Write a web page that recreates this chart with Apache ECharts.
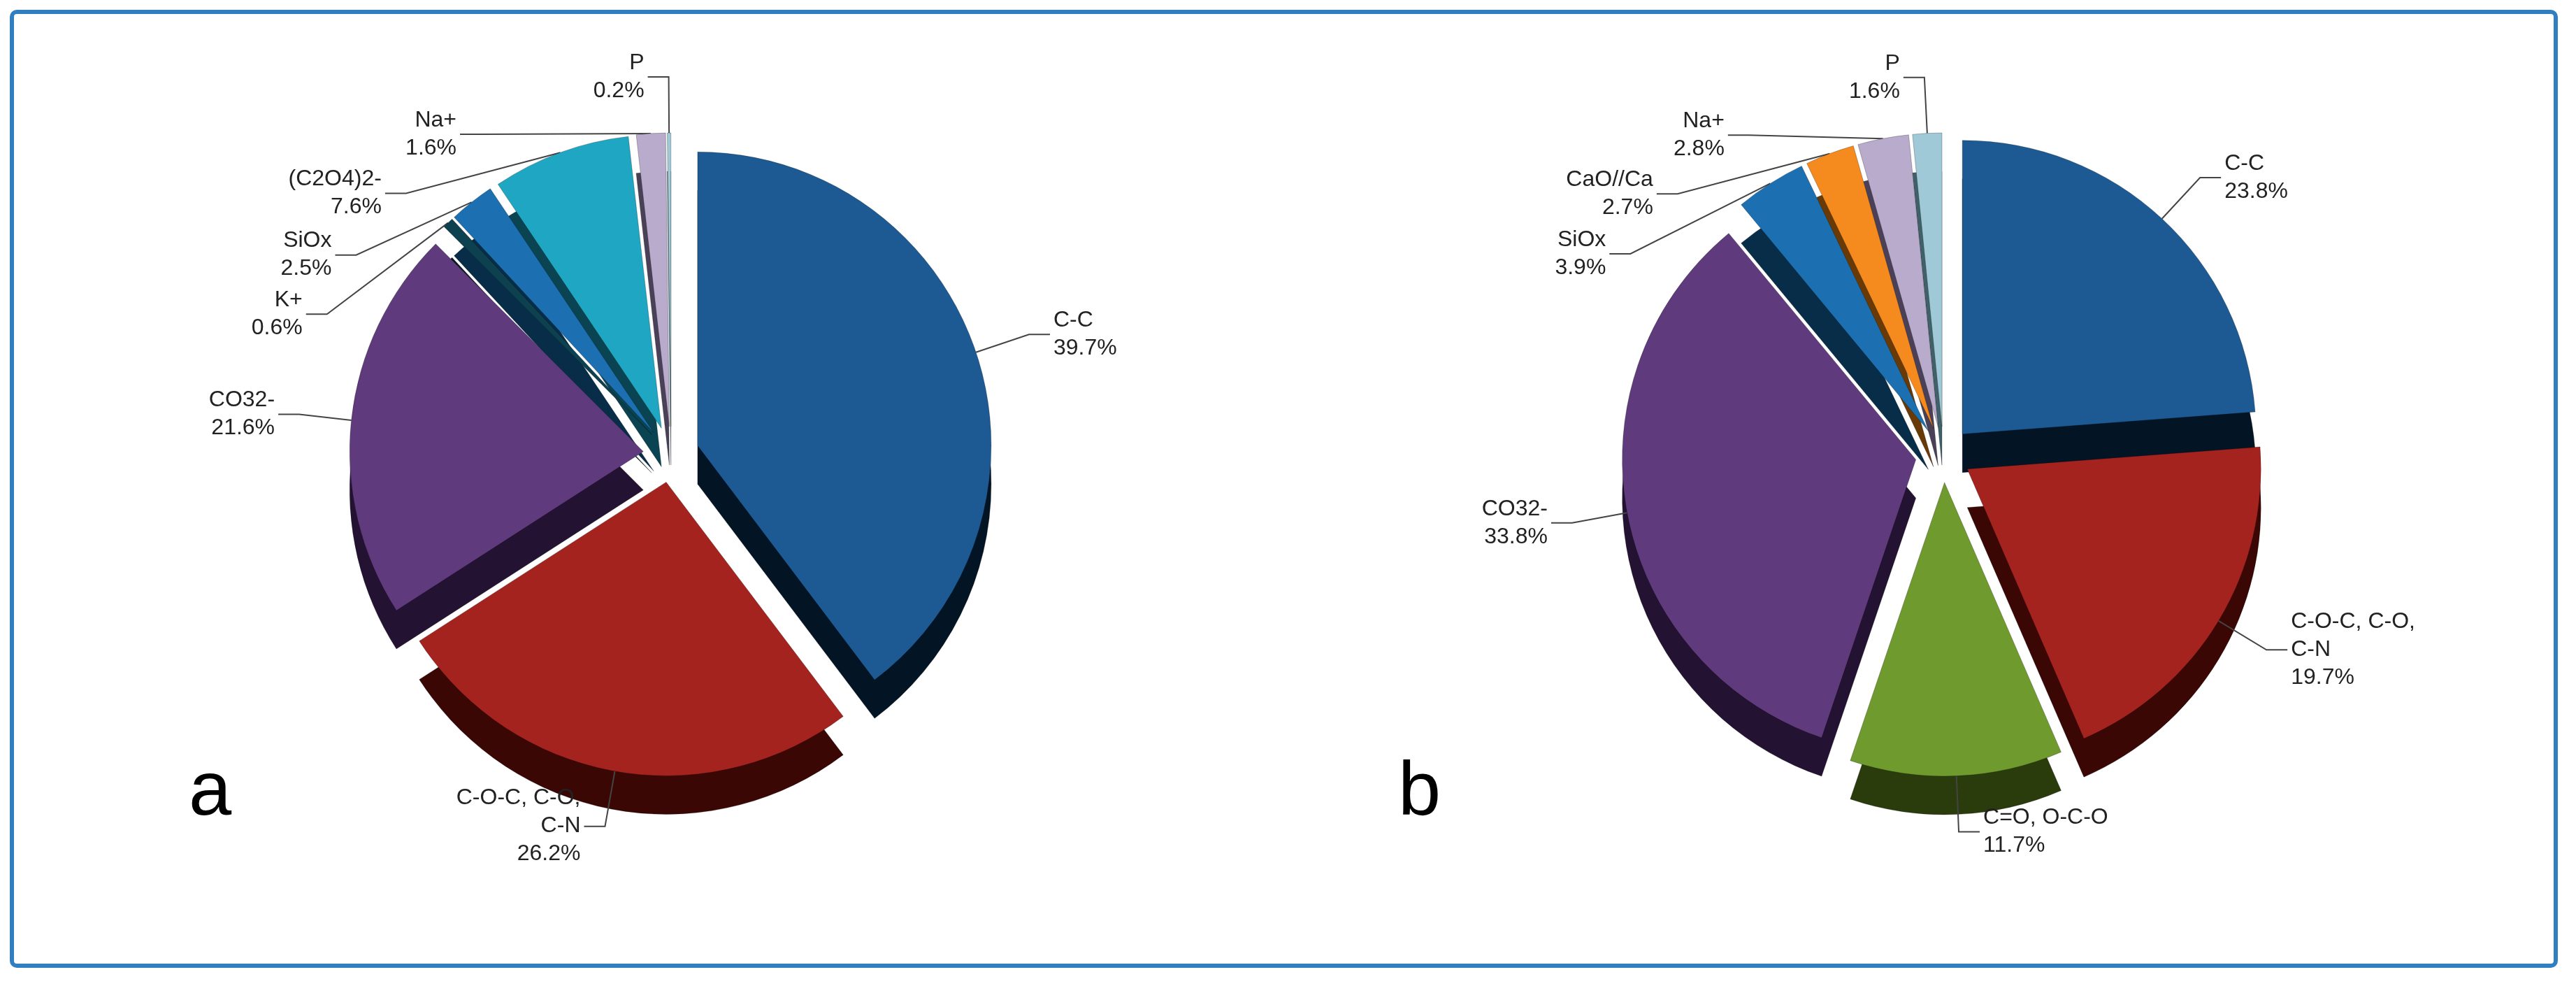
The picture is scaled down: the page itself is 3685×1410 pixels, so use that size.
<!DOCTYPE html>
<html><head><meta charset="utf-8">
<script src="https://cdn.jsdelivr.net/npm/echarts@6/dist/echarts.min.js"></script>
<style>html,body{margin:0;padding:0;background:#fff}
#frame{position:absolute;left:14px;top:14px;width:3645px;height:1370px;border:6px solid #2f7fc1;border-radius:10px;box-sizing:border-box}
#c{position:absolute;left:0;top:0;width:3685px;height:1410px}</style>
</head><body><div id="frame"></div><div id="c"></div>
<script>
// panel a
const namesA = ['C-C', 'C-O-C, C-O,\nC-N', 'CO32-', 'K+', 'SiOx', '(C2O4)2-', 'Na+', 'P'];
const valuesA = [39.7, 26.2, 21.6, 0.6, 2.5, 7.6, 1.6, 0.2];
const colorsA = ['#1d5a94', '#a4231f', '#5f3b7d', '#0d4150', '#1c70b2', '#1ea6c2', '#b9abcb', '#9fc9d6'];
const darkA = ['#031525', '#3a0705', '#241233', '#031a20', '#072d48', '#0a4452', '#4a4158', '#40606a'];
// panel b
const namesB = ['C-C', 'C-O-C, C-O,\nC-N', 'C=O, O-C-O', 'CO32-', 'SiOx', 'CaO//Ca', 'Na+', 'P'];
const valuesB = [23.8, 19.7, 11.7, 33.8, 3.9, 2.7, 2.8, 1.6];
const colorsB = ['#1d5a94', '#a4231f', '#6f9a2e', '#5f3b7d', '#1c70b2', '#f58a1e', '#b9abcb', '#9fc9d6'];
const darkB = ['#031525', '#3a0705', '#2a3c0c', '#241233', '#072d48', '#6a3a06', '#4a4158', '#40606a'];

function build(names, values, colors, withLabel) {
  return names.map((n, i) => ({
    name: n, value: values[i], selected: true,
    itemStyle: {color: colors[i], borderColor: 'rgba(0,0,0,0.25)', borderWidth: 1},
    label: {show: withLabel},
    labelLine: {show: withLabel}
  }));
}
function pies(cx, names, values, colors, dark) {
  const common = {type: 'pie', radius: [0, 420], startAngle: 90, clockwise: true,
    selectedMode: 'multiple', selectedOffset: 40, animation: false, silent: true};
  return [
    Object.assign({}, common, {center: [cx, 705], z: 1, data: build(names, values, dark, false)}),
    Object.assign({}, common, {center: [cx, 650], z: 2, data: build(names, values, colors, true),
      label: {formatter: p => p.name + '\n' + p.value.toFixed(1) + '%', fontSize: 32,
        fontFamily: 'Liberation Sans', color: '#222', lineHeight: 40},
      labelLine: {length: 80, length2: 30, lineStyle: {color: '#444', width: 2}}})
  ];
}
const chart = echarts.init(document.getElementById('c'));
chart.setOption({
  graphic: [
    {type: 'text', left: 270, top: 1080, style: {text: 'a', fontSize: 110, fontFamily: 'Liberation Sans', fill: '#000'}},
    {type: 'text', left: 2000, top: 1080, style: {text: 'b', fontSize: 110, fontFamily: 'Liberation Sans', fill: '#000'}}
  ],
  series: [].concat(pies(960, namesA, valuesA, colorsA, darkA), pies(2780, namesB, valuesB, colorsB, darkB))
});
</script></body></html>
